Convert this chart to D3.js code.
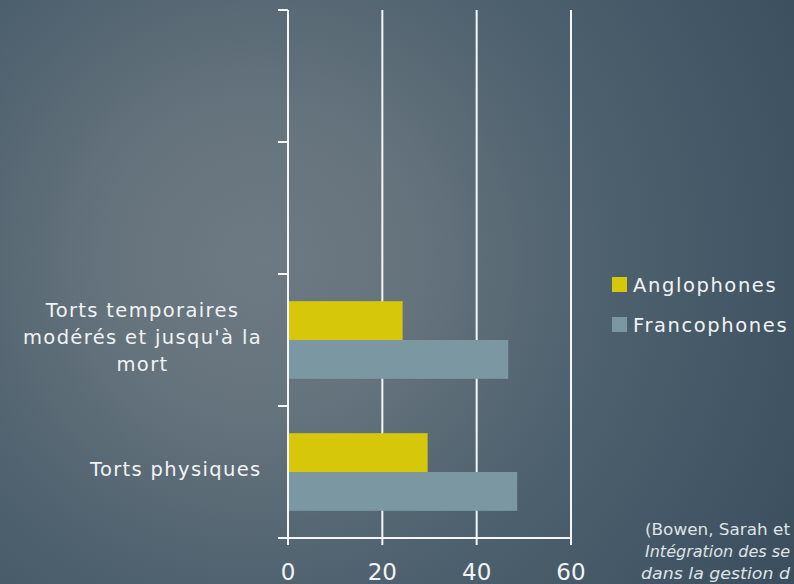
<!DOCTYPE html>
<html>
<head>
<meta charset="utf-8">
<script src="https://cdn.jsdelivr.net/npm/d3@7"></script>
<style>
  html, body { margin: 0; padding: 0; background: #4a5d6a; }
  svg { display: block; }
</style>
</head>
<body>
<svg id="chart" width="794" height="584"></svg>
<script>
// ---- Data (categories listed bottom to top, as in the original chart) ----
const categories = ["Torts physiques", "Torts temporaires\nmodérés et jusqu'à la\nmort", "", ""];
const seriesNames = ["Anglophones", "Francophones"];
const anglophones = [29.6, 24.3, null, null];
const francophones = [48.6, 46.7, null, null];
const xTicks = [0, 20, 40, 60];
const sourceLines = ["(Bowen, Sarah et", "Intégration des se", "dans la gestion d"];

const seriesValues = [anglophones, francophones];
const colors = ["#d6c70b", "#7a97a2"];

const svg = d3.select("#chart");
const W = 794, H = 584;

// background radial gradient
const defs = svg.append("defs");
const grad = defs.append("radialGradient").attr("id", "bg")
  .attr("gradientUnits", "userSpaceOnUse")
  .attr("cx", 260).attr("cy", 260).attr("r", 620);
[[0, "#6d7a84"], [0.25, "#65737d"], [0.55, "#4e616e"], [1, "#3a4e5e"]].forEach(([o, c]) =>
  grad.append("stop").attr("offset", o).attr("stop-color", c));
svg.append("rect").attr("width", W).attr("height", H).attr("fill", "url(#bg)");

const plot = { left: 288, right: 571, top: 10, bottom: 538 };
const font = "'DejaVu Sans', sans-serif";
const textColor = "#f2f3f4";

const x = d3.scaleLinear().domain([0, 60]).range([plot.left, plot.right]);
const catIdx = d3.range(categories.length).reverse(); // top to bottom
const y = d3.scaleBand().domain(catIdx).range([plot.top, plot.bottom]).padding(0);
const y1 = d3.scaleBand().domain(seriesNames).range([0, y.bandwidth()])
  .paddingInner(0).paddingOuter(0.7);

// gridlines
svg.append("g").selectAll("line").data(xTicks.filter(t => t !== 0)).join("line")
  .attr("x1", d => x(d)).attr("x2", d => x(d))
  .attr("y1", plot.top).attr("y2", plot.bottom)
  .attr("stroke", "#f4f6f7").attr("stroke-width", 2);

// bars
const groups = svg.append("g").selectAll("g").data(catIdx).join("g")
  .attr("transform", d => `translate(0,${y(d)})`);
groups.selectAll("rect")
  .data(i => seriesNames.map((s, k) => ({ s, k, v: seriesValues[k][i] })).filter(d => d.v != null))
  .join("rect")
  .attr("x", x(0))
  .attr("y", d => y1(d.s))
  .attr("width", d => x(d.v) - x(0))
  .attr("height", y1.bandwidth())
  .attr("fill", d => colors[d.k]);

// y axis line & ticks (at category boundaries)
const axisColor = "#f4f6f7";
svg.append("line").attr("x1", plot.left).attr("x2", plot.left)
  .attr("y1", plot.top).attr("y2", plot.bottom + 7)
  .attr("stroke", axisColor).attr("stroke-width", 2);
const yBounds = catIdx.map(i => y(i)).concat([plot.bottom]);
svg.append("g").selectAll("line").data(yBounds).join("line")
  .attr("x1", plot.left - 10).attr("x2", plot.left)
  .attr("y1", d => d).attr("y2", d => d)
  .attr("stroke", axisColor).attr("stroke-width", 2);

// x axis line & ticks
svg.append("line").attr("x1", plot.left).attr("x2", plot.right)
  .attr("y1", plot.bottom).attr("y2", plot.bottom)
  .attr("stroke", axisColor).attr("stroke-width", 2);
svg.append("g").selectAll("line").data(xTicks).join("line")
  .attr("x1", d => x(d)).attr("x2", d => x(d))
  .attr("y1", plot.bottom).attr("y2", plot.bottom + 7)
  .attr("stroke", axisColor).attr("stroke-width", 2);
svg.append("g").selectAll("text").data(xTicks).join("text")
  .attr("x", d => x(d))
  .attr("y", 580)
  .attr("text-anchor", "middle")
  .attr("font-family", font).attr("font-size", 23)
  .attr("fill", textColor)
  .text(d => d);

// category labels: block right-aligned at 262, lines centered inside block
const lineH = 27;
catIdx.forEach(i => {
  const label = categories[i];
  if (!label) return;
  const lines = label.split("\n");
  const g = svg.append("g");
  const cy = y(i) + y.bandwidth() / 2 - 3;
  const texts = lines.map((ln, j) => g.append("text")
    .attr("y", cy + (j - (lines.length - 1) / 2) * lineH + 7)
    .attr("text-anchor", "middle")
    .attr("font-family", font).attr("font-size", 19.5)
    .attr("letter-spacing", 1.35)
    .attr("fill", textColor)
    .text(ln));
  const maxW = d3.max(texts, t => t.node().getBBox().width);
  texts.forEach(t => t.attr("x", 262 - maxW / 2));
});

// legend
const legend = svg.append("g").attr("transform", "translate(612,277)");
seriesNames.forEach((s, k) => {
  const g = legend.append("g").attr("transform", `translate(0,${k * 40})`);
  g.append("rect").attr("width", 15).attr("height", 15).attr("fill", colors[k]);
  g.append("text").attr("x", 21).attr("y", 15)
    .attr("font-family", font).attr("font-size", 19.5)
    .attr("letter-spacing", 1.6)
    .attr("fill", textColor).text(s);
});

// source note
svg.append("g").selectAll("text").data(sourceLines).join("text")
  .attr("x", (d, i) => i === 2 ? 641 : 645)
  .attr("y", (d, i) => 535 + i * 22)
  .attr("font-family", font).attr("font-size", 15)
  .attr("font-style", (d, i) => i === 0 ? "normal" : "italic")
  .attr("textLength", (d, i) => i === 2 ? 149 : 145)
  .attr("lengthAdjust", "spacingAndGlyphs")
  .attr("fill", "#dfe3e6")
  .text(d => d);
</script>
</body>
</html>
